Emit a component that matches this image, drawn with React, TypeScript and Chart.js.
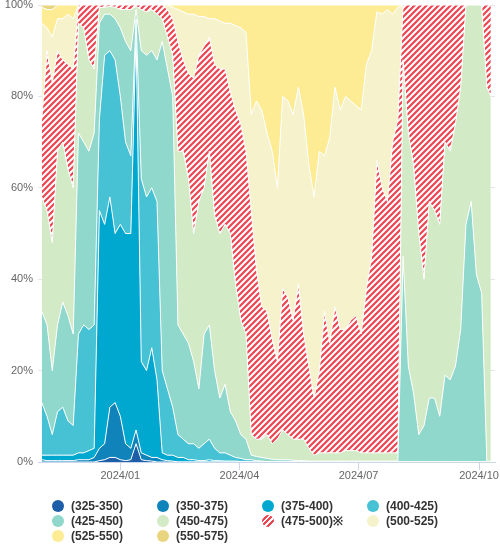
import React, { useEffect, useRef } from 'react';
import { Chart, registerables } from 'chart.js';
Chart.register(...registerables);

// day offsets from 2024-01-01
const days = [
  -60, -56, -52, -48, -44, -40, -36, -32, -28, -24, -20, -16, -12, -8, -4, 0, 4, 8, 12, 16,
  20, 24, 28, 32, 36, 40, 44, 48, 52, 56, 60, 64, 68, 72, 76, 80, 84, 88, 92, 96,
  100, 104, 108, 112, 116, 120, 124, 128, 132, 136, 140, 144, 148, 152, 156, 160, 164, 168, 172, 176,
  180, 184, 188, 192, 196, 200, 204, 208, 212, 216, 220, 224, 228, 232, 236, 240, 244, 248, 252, 256,
  260, 264, 268, 272, 276, 280, 283,
];

const tickDays = [0, 91, 182, 274];
const tickLabels = ['2024/01', '2024/04', '2024/07', '2024/10'];
const yTicks = [0, 20, 40, 60, 80, 100];

const seriesNames = [
  '(325-350)', '(350-375)', '(375-400)', '(400-425)', '(425-450)',
  '(450-475)', '(475-500)※', '(500-525)', '(525-550)', '(550-575)',
];

const s325 = [
  0, 0, 0, 0, 0, 0, 0, 0, 0, 0, 0,
  0.3, 0.5, 1, 1, 0.5, 0.3, 0.5, 4, 0.5, 0.3, 0.2, 0,
  0, 0, 0, 0, 0, 0, 0, 0, 0, 0, 0, 0, 0, 0, 0, 0, 0,
  0, 0, 0, 0, 0, 0, 0, 0, 0, 0,
  0, 0, 0, 0, 0, 0, 0, 0, 0, 0,
  0, 0, 0, 0, 0, 0, 0, 0, 0,
  0, 0, 0, 0, 0, 0, 0, 0, 0, 0, 0, 0, 0, 0, 0, 0, 0, 0,
];
const s350 = [
  0.5, 0.3, 0.3, 0.3, 0.3, 0.3, 0.3, 0.5, 0.5, 0.5, 1,
  2.7, 3.5, 11, 12, 9.5, 3.7, 2.5, 3, 1.5, 1.2, 0.8, 1,
  0.5, 0.3, 0.2, 0, 0, 0, 0, 0, 0, 0, 0, 0, 0, 0, 0, 0, 0,
  0, 0, 0, 0, 0, 0, 0, 0, 0, 0,
  0, 0, 0, 0, 0, 0, 0, 0, 0, 0,
  0, 0, 0, 0, 0, 0, 0, 0, 0,
  0, 0, 0, 0, 0, 0, 0, 0, 0, 0, 0, 0, 0, 0, 0, 0, 0, 0,
];
const s375 = [
  1, 1.2, 1.2, 1.2, 1.2, 1.2, 1.2, 1.5, 1.5, 2, 2,
  52, 48, 46, 37, 42, 46, 47, 87, 20, 18.5, 24, 17,
  1.5, 1.2, 1.3, 1, 1, 0.5, 0.5, 0.3, 0.3, 0.5, 0.3, 0.3, 0.2, 0.2, 0.2, 0.1, 0.1,
  0, 0, 0, 0, 0, 0, 0, 0, 0, 0,
  0, 0, 0, 0, 0, 0, 0, 0, 0, 0,
  0, 0, 0, 0, 0, 0, 0, 0, 0,
  0, 0, 0, 0, 0, 0, 0, 0, 0, 0, 0, 0, 0, 0, 0, 0, 0, 0,
];
const s400 = [
  11.5, 8.5, 4.5, 9.5, 10.5, 7.5, 6.5, 26, 28, 26.5, 27,
  20, 37, 32, 38, 28, 20, 17, 3, 40, 38, 35, 39,
  18, 14.5, 10.5, 5, 4, 3.5, 3.5, 2.7, 3.7, 4.5, 2.7, 1.7, 1.8, 1.3, 0.8, 0.7, 0.4,
  0.5, 0.3, 0.2, 0.1, 0, 0, 0, 0, 0, 0,
  0, 0, 0, 0, 0, 0, 0, 0, 0, 0,
  0, 0, 0, 0, 0, 0, 0, 0, 0,
  0, 0, 0, 0, 0, 0, 0, 0, 0, 0, 0, 0, 0, 0, 0, 0, 0, 0,
];
const s425 = [
  20, 20, 14, 19, 23, 23, 20, 44, 40, 39, 42,
  21, 9, 8, 9, 15, 22, 23, 2, 28, 31, 30, 31,
  72, 70, 68, 24, 23, 22, 18, 13, 24, 25, 17, 12, 15, 9.5, 8, 5.2, 4.5,
  1, 0.9, 0.8, 0.7, 0.6, 0.5, 0.5, 0.5, 0.4, 0.3,
  0.3, 0.2, 0.2, 0.2, 0.2, 0.2, 0.2, 0.2, 0.2, 0.2,
  0.2, 0.2, 0.2, 0.2, 0.2, 0.2, 0.2, 0.2, 0.2,
  45, 21, 15, 6, 8, 14, 14, 10, 19, 18, 21, 29, 52, 57, 41, 37, 0, 0,
];
const s450 = [
  25, 25, 28, 38, 35, 32, 32, 24, 25, 20, 14,
  3.5, 1.5, 1.7, 2.5, 4, 7, 9, 0.7, 9, 9.5, 9, 10,
  5, 7, 9, 38, 40, 36, 28, 41, 32, 38, 34, 36, 35, 39, 30, 25, 23,
  4.5, 3.8, 4, 5.2, 3.4, 4.5, 6.5, 5.5, 4.6, 4.7,
  4.7, 2.8, 1.3, 1.8, 1.8, 1.8, 1.8, 1.8, 2.3, 2.3,
  2.3, 1.8, 1.8, 1.8, 1.8, 1.8, 1.8, 1.8, 1.8,
  43, 51, 50, 44, 32, 43, 41, 42, 51, 50, 53, 53, 48, 43, 59, 63, 82, 80,
];
const s475 = [
  17, 35, 35, 22, 18, 23, 26, 4, 5, 12, 14,
  0.5, 0.5, 0.3, 0.5, 1, 1, 1, 0.3, 1, 1.5, 1, 2,
  3, 6, 8, 24, 20, 23, 34, 32, 31, 25, 33, 36, 34, 31, 38, 43, 40,
  49, 37, 29, 27, 23, 17, 31, 30, 26, 34,
  23, 18, 12.5, 18, 31, 24, 32, 27, 26.5, 28.5,
  29.5, 26, 36, 43, 64, 58, 55, 68, 73,
  12, 28, 35, 50, 60, 43, 45, 48, 30, 32, 26, 18, 0, 0, 0, 0, 18, 20,
];
const s500 = [
  21, 5, 10, 7, 9, 11, 11, 0, 0, 0, 0,
  0, 0, 0, 0, 0, 0, 0, 0, 0, 0, 0, 0,
  0, 1, 2.5, 7, 10.5, 13, 14, 8.5, 6.5, 4, 10, 10.5, 10, 15, 18.5, 21, 26,
  21, 37, 43, 39, 41, 38, 42, 43, 45, 43,
  48, 44, 44, 48, 34, 45, 48, 48, 51, 48,
  46, 49, 49, 45, 32.5, 38, 42, 28, 24.5,
  0, 0, 0, 0, 0, 0, 0, 0, 0, 0, 0, 0, 0, 0, 0, 0, 0, 0,
];
const s525 = [
  3.5, 4, 6, 3, 3, 2, 3, 0, 0, 0, 0,
  0, 0, 0, 0, 0, 0, 0, 0, 0, 0, 0, 0,
  0, 0, 0.5, 1, 1.5, 2, 2, 2.5, 2.5, 3, 3, 3.5, 4, 4, 4.5, 5, 6,
  24, 21, 23, 28, 32, 40, 20, 21, 24, 18,
  24, 35, 42, 32, 33, 29, 18, 23, 20, 21,
  22, 23, 13, 10, 1.5, 2, 1, 2, 0.5,
  0, 0, 0, 0, 0, 0, 0, 0, 0, 0, 0, 0, 0, 0, 0, 0, 0, 0,
];
const s550 = [
  0.5, 1, 1, 0, 0, 0, 0, 0, 0, 0, 0,
  0, 0, 0, 0, 0, 0, 0, 0, 0, 0, 0, 0,
  0, 0, 0, 0, 0, 0, 0, 0, 0, 0, 0, 0, 0, 0, 0, 0, 0,
  0, 0, 0, 0, 0, 0, 0, 0, 0, 0,
  0, 0, 0, 0, 0, 0, 0, 0, 0, 0,
  0, 0, 0, 0, 0, 0, 0, 0, 0,
  0, 0, 0, 0, 0, 0, 0, 0, 0, 0, 0, 0, 0, 0, 0, 0, 0, 0,
];

const seriesValues = [s325, s350, s375, s400, s425, s450, s475, s500, s525, s550];

const colors = [
  '#1d5ea8', '#0f83ba', '#00a8d0', '#47c1d4', '#8fd8cb',
  '#d3eac7', '#ef4452', '#f6f2cc', '#fdec94', '#e9d57f',
];
const STRIPE = 6; // index of the hatched series
const FONT = "'Liberation Sans', Arial, Helvetica, sans-serif";

function makeStripePattern(ctx: CanvasRenderingContext2D) {
  const c = document.createElement('canvas');
  const p = 6;
  c.width = p;
  c.height = p;
  const g = c.getContext('2d')!;
  g.fillStyle = '#ffffff';
  g.fillRect(0, 0, p, p);
  g.strokeStyle = colors[STRIPE];
  g.lineWidth = 2.2;
  g.beginPath();
  g.moveTo(0, p);
  g.lineTo(p, 0);
  g.moveTo(-p / 2, p / 2);
  g.lineTo(p / 2, -p / 2);
  g.moveTo(p / 2, p * 1.5);
  g.lineTo(p * 1.5, p / 2);
  g.stroke();
  return ctx.createPattern(c, 'repeat');
}

function ChartBox() {
  const ref = useRef<HTMLCanvasElement | null>(null);
  useEffect(() => {
    const canvas = ref.current!;
    const ctx = canvas.getContext('2d')!;
    const pattern = makeStripePattern(ctx);
    const totals = days.map((_, i) => seriesValues.reduce((a, s) => a + s[i], 0));
    const chart = new Chart(ctx, {
      type: 'line',
      data: {
        datasets: seriesValues.map((vals, k) => ({
          label: seriesNames[k],
          data: days.map((d, i) => ({ x: d, y: (vals[i] / totals[i]) * 100 })),
          backgroundColor: k === STRIPE ? (pattern as any) : colors[k],
          borderColor: '#ffffff',
          borderWidth: 1,
          pointRadius: 0,
          pointHoverRadius: 0,
          tension: 0,
          fill: k === 0 ? 'origin' : '-1',
        })),
      },
      options: {
        animation: false,
        responsive: false,
        devicePixelRatio: 1,
        layout: { padding: { top: 5, right: 5, left: 0, bottom: 0 } },
        plugins: { legend: { display: false }, tooltip: { enabled: false } },
        scales: {
          x: {
            type: 'linear',
            min: -62.9,
            max: 286.2,
            z: 1,
            afterFit: (s: any) => {
              s.height = 28;
              s.paddingLeft = 0;
              s.paddingRight = 0;
            },
            afterBuildTicks: (s: any) => {
              s.ticks = tickDays.map((v) => ({ value: v }));
            },
            ticks: {
              autoSkip: false,
              maxRotation: 0,
              padding: -1,
              color: '#666666',
              font: { size: 11, family: FONT },
              callback: (v: any) => {
                const idx = tickDays.indexOf(Number(v));
                return idx >= 0 ? tickLabels[idx] : '';
              },
            },
            grid: {
              drawOnChartArea: false,
              drawTicks: true,
              tickLength: 8,
              color: '#ccd6eb',
            },
            border: { display: true, color: '#ccd6eb' },
          },
          y: {
            stacked: true,
            min: 0,
            max: 100,
            afterFit: (s: any) => {
              s.width = 38;
              s.paddingTop = 0;
              s.paddingBottom = 0;
            },
            afterBuildTicks: (s: any) => {
              s.ticks = yTicks.map((v) => ({ value: v }));
            },
            ticks: {
              padding: 5,
              color: '#666666',
              font: { size: 11, family: FONT },
              callback: (v: any) => `${v}%`,
            },
            grid: { color: '#e6e6e6', drawTicks: false },
            border: { display: false },
          },
        },
      },
    });
    return () => chart.destroy();
  }, []);
  return <canvas ref={ref} width={500} height={490} style={{ display: 'block', width: 500, height: 490 }} />;
}

function Legend() {
  return (
    <div style={{ position: 'absolute', left: 0, top: 0, width: 500, height: 554, pointerEvents: 'none' }}>
      {seriesNames.map((name, k) => {
        const col = k % 4;
        const row = Math.floor(k / 4);
        const icon: React.CSSProperties =
          k === STRIPE
            ? {
                background: `repeating-linear-gradient(-45deg, ${colors[STRIPE]} 0px, ${colors[STRIPE]} 2px, #ffffff 2px, #ffffff 4px)`,
              }
            : { background: colors[k] };
        return (
          <div
            key={name}
            style={{
              position: 'absolute',
              left: 52 + col * 105,
              top: 498 + row * 15,
              height: 16,
              display: 'flex',
              alignItems: 'center',
              whiteSpace: 'nowrap',
            }}
          >
            <span
              style={{
                display: 'inline-block',
                width: 12,
                height: 12,
                borderRadius: '50%',
                marginRight: 7,
                ...icon,
              }}
            />
            <span style={{ fontFamily: FONT, fontWeight: 'bold', fontSize: 12, color: '#333333', lineHeight: '16px' }}>
              {name}
            </span>
          </div>
        );
      })}
    </div>
  );
}

export default function App() {
  return (
    <div style={{ position: 'absolute', left: 0, top: 0, width: 500, height: 554, background: '#ffffff' }}>
      <ChartBox />
      <Legend />
    </div>
  );
}
